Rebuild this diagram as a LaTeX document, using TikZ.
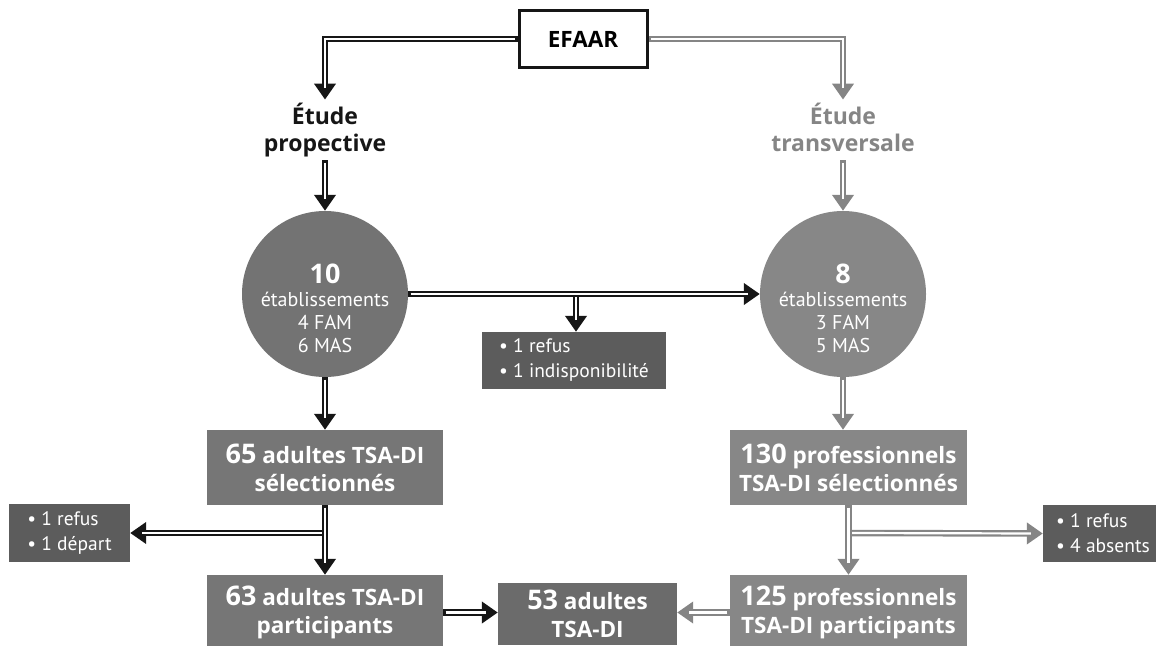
\documentclass[tikz,border=0pt]{standalone}
\usepackage{fontspec}
\setmainfont{Open Sans}
\newfontfamily\regfont{PT Sans}
\usetikzlibrary{arrows.meta}
\definecolor{dk}{HTML}{161616}
\definecolor{lg}{HTML}{858585}
\definecolor{circA}{HTML}{737373}
\definecolor{circB}{HTML}{878787}
\definecolor{boxA}{HTML}{767676}
\definecolor{boxB}{HTML}{878787}
\definecolor{boxC}{HTML}{6B6B6B}
\definecolor{sm}{HTML}{5C5C5C}
\tikzset{
  arr/.style={line width=6.5pt, -{Triangle[width=21pt,length=16pt]},
    postaction={draw=white, line width=2.2pt, -, shorten <=2.5pt, shorten >=12pt}},
  arrP/.style={arr, draw=dk},
  arrT/.style={arr, draw=lg},
  circP/.style={circle, fill=circA, minimum size=166pt, inner sep=0pt},
  circT/.style={circle, fill=circB, minimum size=166pt, inner sep=0pt},
  circtext/.style={anchor=north, inner sep=0pt, text=white, align=center, font=\regfont\fontsize{20}{23}\selectfont},
  boxP/.style={fill=boxA, minimum width=236pt, minimum height=75pt, inner sep=0pt, text=white, align=center, font=\fontsize{22.5}{28}\selectfont\bfseries},
  boxT/.style={fill=boxB, minimum width=237pt, minimum height=75pt, inner sep=0pt, text=white, align=center, font=\fontsize{22.5}{28}\selectfont\bfseries},
  smallbox/.style={fill=sm, inner sep=0pt, text=white, align=left, font=\regfont\fontsize{19.5}{25}\selectfont},
  title/.style={align=center, inner sep=3pt, text depth=6pt, font=\fontsize{23}{27}\selectfont\bfseries},
}
\newcommand{\bignum}[1]{{\fontsize{27}{27}\selectfont #1}}
\newcommand{\circnum}[1]{{\fontfamily{\rmdefault}\normalfont\bfseries\fontsize{27}{27}\selectfont #1}}
\begin{document}
\begin{tikzpicture}[x=1pt,y=-1pt]
\useasboundingbox (0,0) rectangle (1156,645);
% nodes
\node[draw=dk, line width=3pt, minimum width=128pt, minimum height=57pt, font=\fontsize{22.5}{25}\selectfont\bfseries] (efaar) at (583,39) {EFAAR};
\node[title, text=dk] (etp) at (325,130) {Étude\\propective};
\node[title, text=lg] (ett) at (843,130) {Étude\\transversale};
\node[circP] (c1) at (325,294) {};
\node[circtext] (c1t) at (325,264) {\circnum{10}\\établissements\\4 FAM\\6 MAS};
\node[circT] (c2) at (843,294) {};
\node[circtext] (c2t) at (843,264) {\circnum{8}\\établissements\\3 FAM\\5 MAS};
\node[smallbox, minimum width=184pt, minimum height=57pt] (ref1) at (574,360.5) {• 1 refus\\• 1 indisponibilité};
\node[boxP] (b65) at (325,467.5) {\bignum{65} adultes TSA-DI\\sélectionnés};
\node[boxT] (b130) at (848.5,467.5) {\bignum{130} professionnels\\TSA-DI sélectionnés};
\node[smallbox, minimum width=121pt, minimum height=58pt] (ref2) at (69.5,533) {• 1 refus\\• 1 départ};
\node[smallbox, minimum width=120pt, minimum height=57pt] (ref3) at (1103,533.5) {• 1 refus\\• 4 absents};
\node[boxP] (b63) at (325,612.5) {\bignum{63} adultes TSA-DI\\participants};
\node[boxT] (b125) at (848.5,612.5) {\bignum{125} professionnels\\TSA-DI participants};
\node[fill=boxC, minimum width=179pt, minimum height=62pt, inner sep=0pt, text=white, align=center, font=\fontsize{22.5}{28}\selectfont\bfseries] (b53) at (587.5,614) {\bignum{53} adultes\\TSA-DI};
% branch points
\coordinate (br1) at (576,294);
\coordinate (br2) at (325,533);
\coordinate (br3) at (848.5,533);
% connectors
\draw[arrP] (efaar.west) -| (etp.north);
\draw[arrT] (efaar.east) -| (ett.north);
\draw[arrP] (etp.south) -- (c1.north);
\draw[arrT] (ett.south) -- (c2.north);
\draw[arrP] (br1) -- (br1 |- ref1.north);
\draw[arrP] (c1.east) -- (c2.west);
\draw[arrP] (c1.south) -- (b65.north);
\draw[arrT] (c2.south) -- (c2.south |- b130.north);
\draw[arrP] (br2) -- (ref2.east);
\draw[arrP] (b65.south) -- (b63.north);
\draw[arrT] (br3) -- (ref3.west);
\draw[arrT] (b130.south) -- (b125.north);
\draw[arrP] (b63.east) -- (b63.east -| b53.west);
\draw[arrT] (b125.west) -- (b125.west -| b53.east);
\end{tikzpicture}
\end{document}
